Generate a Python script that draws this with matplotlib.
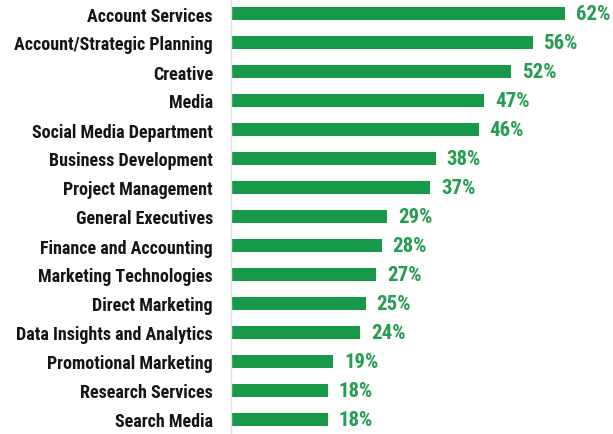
import matplotlib.pyplot as plt
from matplotlib import font_manager

departments = [
    "Account Services", "Account/Strategic Planning", "Creative", "Media",
    "Social Media Department", "Business Development", "Project Management",
    "General Executives", "Finance and Accounting", "Marketing Technologies",
    "Direct Marketing", "Data Insights and Analytics", "Promotional Marketing",
    "Research Services", "Search Media",
]
shares = [62, 56, 52, 47, 46, 38, 37, 29, 28, 27, 25, 24, 19, 18, 18]

green = "#17994a"

# prefer a narrow face for the long category names
installed = {f.name for f in font_manager.fontManager.ttflist}
narrow = [n for n in ["Liberation Sans Narrow", "DejaVu Sans Condensed",
                      "Roboto Condensed", "Open Sans Condensed"] if n in installed]
if narrow:
    font, size, vsize = [narrow[0], "DejaVu Sans"], 13, 15
else:
    font, size, vsize = ["DejaVu Sans"], 9, 10

fig = plt.figure(figsize=(6.13, 4.35), dpi=100)
ax = fig.add_axes([231 / 613, 0, 377 / 613, 1])

ypos = list(range(len(departments)))
ax.barh(ypos, shares, height=0.45, color=green)
ax.set_xlim(0, 70)
ax.set_ylim(len(departments) - 0.5, -0.5)

for y, v in zip(ypos, shares):
    ax.text(v + 2, y, f"{v}%", va="center", ha="left", color="#249c52",
            fontsize=vsize, fontweight="bold", family=font)

ax.set_yticks(ypos)
ax.set_yticklabels(departments, fontsize=size, fontweight="bold", family=font,
                   color="#151515")
ax.tick_params(axis="y", length=0, pad=13)
ax.set_xticks([])
for side in ["top", "right", "bottom"]:
    ax.spines[side].set_visible(False)
ax.spines["left"].set_color("#e4e4e4")
ax.spines["left"].set_linewidth(1)

fig.savefig("out.png", dpi=100)
